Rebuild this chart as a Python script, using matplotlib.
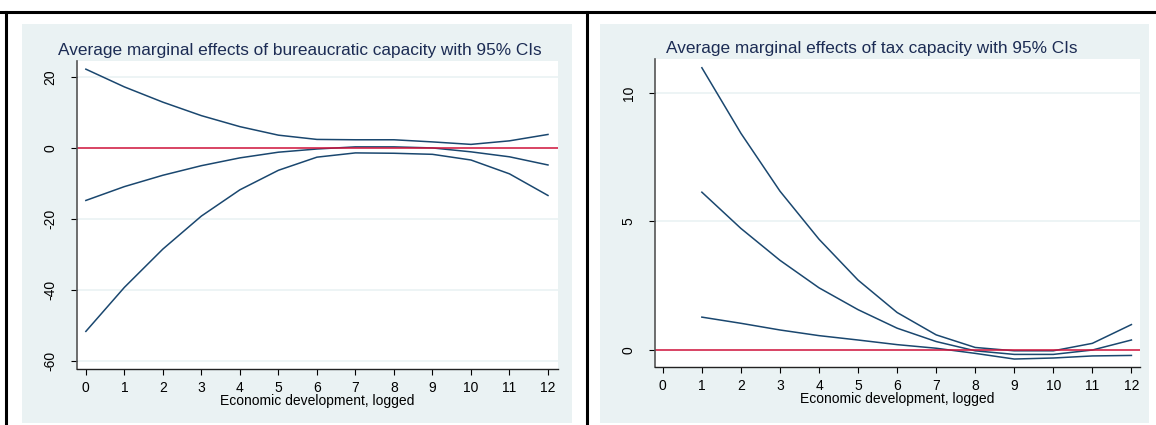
import matplotlib
matplotlib.use("Agg")
import matplotlib.pyplot as plt
from matplotlib.patches import Rectangle
from matplotlib.lines import Line2D

plt.rcParams['font.family'] = ['Liberation Sans', 'DejaVu Sans']

# data
x_bur = [0, 1, 2, 3, 4, 5, 6, 7, 8, 9, 10, 11, 12]
bur_upper = [22.2, 17.2, 12.9, 9.1, 6.0, 3.6, 2.4, 2.3, 2.3, 1.7, 1.0, 2.0, 3.8]
bur_mid = [-14.8, -10.9, -7.7, -5.0, -2.8, -1.2, -0.3, 0.3, 0.3, 0.0, -1.1, -2.5, -4.8]
bur_lower = [-51.7, -39.3, -28.5, -19.2, -11.8, -6.3, -2.6, -1.4, -1.5, -1.8, -3.4, -7.3, -13.4]

x_tax = [1, 2, 3, 4, 5, 6, 7, 8, 9, 10, 11, 12]
tax_upper = [10.98, 8.43, 6.18, 4.31, 2.72, 1.46, 0.59, 0.10, -0.03, -0.03, 0.26, 0.99]
tax_mid = [6.14, 4.73, 3.49, 2.42, 1.57, 0.85, 0.33, -0.03, -0.17, -0.17, 0.0, 0.39]
tax_lower = [1.28, 1.04, 0.78, 0.56, 0.39, 0.21, 0.07, -0.13, -0.35, -0.31, -0.23, -0.21]

xticks = list(range(0, 13))
bur_yticks = [-60, -40, -20, 0, 20]
tax_yticks = [0, 5, 10]

W, H = 1156, 425
BG = '#eaf2f3'
NAVY = '#1a476f'
RED = '#d4143c'


def box(x0, y0, x1, y1):
    # pixel box (from top-left) -> figure fraction [left, bottom, w, h]
    return [x0 / W, 1 - y1 / H, (x1 - x0) / W, (y1 - y0) / H]


fig = plt.figure(figsize=(W / 100, H / 100), dpi=100)

# grey-blue panel backgrounds
for x0, x1 in [(22, 572), (600, 1149)]:
    b = box(x0, 24, x1, 423)
    fig.patches.append(Rectangle((b[0], b[1]), b[2], b[3], transform=fig.transFigure,
                                 facecolor=BG, edgecolor='none', zorder=-5))

# table borders of the document
fig.lines.append(Line2D([0, 1], [1 - 12 / H, 1 - 12 / H], transform=fig.transFigure,
                        color='black', lw=2.2))
for xp in [6, 587]:
    fig.lines.append(Line2D([xp / W, xp / W], [0, 1 - 12 / H], transform=fig.transFigure,
                            color='black', lw=2.2))

# heading cut off at the top of the page image
fig.text(0.5, 1 + 5 / H, "Figure 3: Average marginal effects of bureaucratic capacity, tax capacity on compliance, by economic development",
         ha='center', va='baseline', fontsize=12.5, fontweight='bold', family='Liberation Serif')


def style(ax, yticks, ylim, xlim):
    ax.set_zorder(2)
    ax.set_facecolor('white')
    ax.set_xlim(*xlim)
    ax.set_ylim(*ylim)
    ax.set_xticks(xticks)
    ax.set_yticks(yticks)
    ax.set_yticklabels([str(t) for t in yticks], rotation=90, va='center')
    for s in ['top', 'right']:
        ax.spines[s].set_visible(False)
    ax.spines['left'].set_color('#555555')
    ax.spines['left'].set_linewidth(1.2)
    ax.spines['bottom'].set_color('#222222')
    ax.spines['bottom'].set_linewidth(1.0)
    ax.tick_params(axis='x', length=4, width=0.8, labelsize=10, pad=5)
    ax.tick_params(axis='y', length=4, width=0.8, labelsize=10, pad=10)
    for t in yticks:
        ax.axhline(t, color=BG, lw=1.2, zorder=0)
    ax.set_xlabel("Economic development, logged", fontsize=10, labelpad=-1)


ax1 = fig.add_axes(box(77, 61, 558, 369))
style(ax1, bur_yticks, (-62.3, 24.5), (-0.23, 12.26))
for ys in [bur_upper, bur_mid, bur_lower]:
    ax1.plot(x_bur, ys, color=NAVY, lw=1.1)
ax1.axhline(0, color=RED, lw=1.1)
fig.text(300 / W, 1 - 55 / H, "Average marginal effects of bureaucratic capacity with 95% CIs",
         ha='center', va='baseline', fontsize=12.4, color='#1c2c54')

ax2 = fig.add_axes(box(655, 59, 1140, 367))
style(ax2, tax_yticks, (-0.66, 11.32), (-0.2, 12.22))
for ys in [tax_upper, tax_mid, tax_lower]:
    ax2.plot(x_tax, ys, color=NAVY, lw=1.1)
ax2.axhline(0, color=RED, lw=1.1)
fig.text(872 / W, 1 - 53 / H, "Average marginal effects of tax capacity with 95% CIs",
         ha='center', va='baseline', fontsize=12.4, color='#1c2c54')

fig.savefig("out.png", dpi=100, facecolor='white')
